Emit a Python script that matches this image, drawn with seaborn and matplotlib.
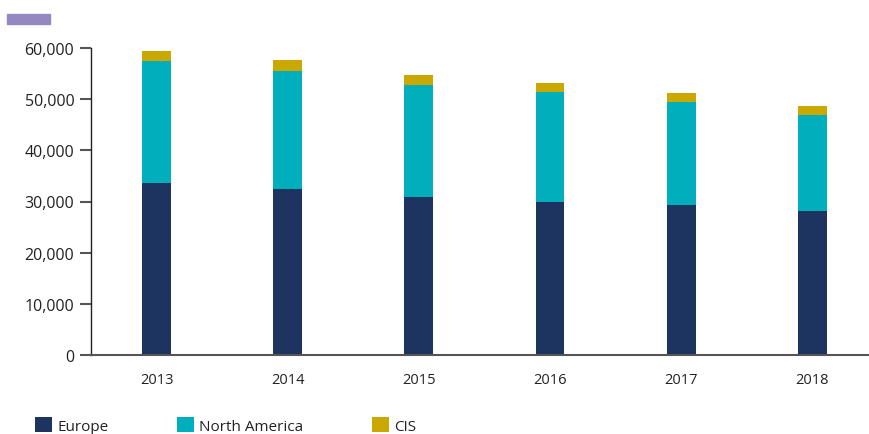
import matplotlib
matplotlib.use("Agg")
import matplotlib.pyplot as plt
import matplotlib.ticker as mticker
from matplotlib.patches import Patch, Rectangle
import seaborn as sns
import pandas as pd
import numpy as np

years = ["2013", "2014", "2015", "2016", "2017", "2018"]
europe = [33600, 32450, 30900, 29900, 29300, 28150]
north_america = [23850, 23050, 21850, 21500, 20150, 18750]
cis = [1950, 2150, 1950, 1750, 1750, 1750]

series_names = ["Europe", "North America", "CIS"]
colors = {"Europe": "#1d3461", "North America": "#00aebc", "CIS": "#cba800"}

sns.set_theme(style="white")
plt.rcParams["font.family"] = ["Open Sans", "DejaVu Sans"]

df = pd.DataFrame({"year": years, "Europe": europe,
                   "North America": north_america, "CIS": cis})
df["na_top"] = df["Europe"] + df["North America"]
df["total"] = df["na_top"] + df["CIS"]

fig = plt.figure(figsize=(8.7, 4.35), dpi=100)
ax = fig.add_axes([91/870, 1-356/435, 1-91/870, (356-49)/435])

w = 0.22
sns.barplot(data=df, x="year", y="total", color=colors["CIS"], width=w,
            saturation=1, ax=ax, linewidth=0)
sns.barplot(data=df, x="year", y="na_top", color=colors["North America"], width=w,
            saturation=1, ax=ax, linewidth=0)
sns.barplot(data=df, x="year", y="Europe", color=colors["Europe"], width=w,
            saturation=1, ax=ax, linewidth=0)

ax.set_ylim(0, 60000)
ax.set_xlim(-0.5, 5.44)
ax.set_yticks(np.arange(0, 60001, 10000))
ax.yaxis.set_major_formatter(mticker.FuncFormatter(lambda v, p: f"{int(v):,}"))
ax.set_xlabel("")
ax.set_ylabel("")
for s in ["top", "right"]:
    ax.spines[s].set_visible(False)
ax.spines["left"].set_color("#222222")
ax.spines["left"].set_linewidth(1.0)
ax.spines["bottom"].set_color("#555555")
ax.spines["bottom"].set_linewidth(1.5)
ax.tick_params(axis="y", which="both", left=True, length=8, width=1.5,
               color="#555555", labelsize=11.5, labelcolor="#222222", pad=4)
ax.tick_params(axis="x", bottom=False, labelsize=10.5, labelcolor="#222222", pad=6)

# decorative header bar
fig.patches.append(Rectangle((7/870, 1-25/435), 43/870, 10/435,
                             transform=fig.transFigure, color="#9488c0"))

handles = [Patch(facecolor=colors[n], edgecolor="none", label=n) for n in series_names]
fig.legend(handles=handles, loc="lower left", bbox_to_anchor=(35/870, 0.0),
           ncol=3, frameon=False, fontsize=11, handlelength=1.1, handleheight=1.1,
           handletextpad=0.35, columnspacing=4.5, borderpad=0, borderaxespad=0,
           labelcolor="#222222")

fig.savefig("out.png", dpi=100)
